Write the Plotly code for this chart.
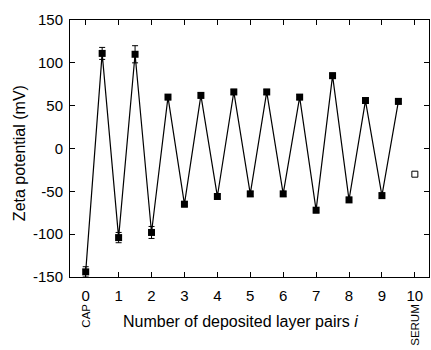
import plotly.graph_objects as go

# Zeta potential after each deposited layer (half-integer steps = one layer)
layer_pos = [0, 0.5, 1, 1.5, 2, 2.5, 3, 3.5, 4, 4.5, 5, 5.5, 6, 6.5, 7, 7.5, 8, 8.5, 9, 9.5]
zeta_mv = [-144, 111, -104, 110, -98, 60, -65, 62, -56, 66, -53, 66, -53, 60, -72, 85, -60, 56, -55, 55]
zeta_err = [6, 7, 6, 10, 7, 3, 3, 3, 3, 3, 3, 3, 3, 3, 3, 3, 3, 3, 3, 3]

# Capsules after serum incubation
serum_pos = [10]
serum_mv = [-30]

x_ticks = list(range(0, 11))
y_ticks = [-150, -100, -50, 0, 50, 100, 150]

FONT = "Liberation Sans, Arial, sans-serif"

fig = go.Figure()
fig.add_trace(go.Scatter(
    x=layer_pos, y=zeta_mv,
    mode="lines+markers",
    line=dict(color="black", width=1.2),
    marker=dict(symbol="square", size=7, color="black"),
    error_y=dict(type="data", array=zeta_err, visible=True,
                 color="black", thickness=1, width=3),
    showlegend=False,
))
fig.add_trace(go.Scatter(
    x=serum_pos, y=serum_mv,
    mode="markers",
    marker=dict(symbol="square-open", size=6, color="black",
                line=dict(width=1, color="black")),
    showlegend=False,
))

axis_common = dict(
    showline=True, linecolor="black", linewidth=1,
    ticks="inside", ticklen=5, tickcolor="black", tickwidth=1,
    mirror="allticks", showgrid=False, zeroline=False,
    tickfont=dict(family=FONT, size=15, color="black"),
)

fig.update_xaxes(range=[-0.477, 10.43], tickvals=x_ticks,
                 ticktext=[str(v) for v in x_ticks],
                 ticklabelstandoff=5, **axis_common)
fig.update_yaxes(range=[-150, 150], tickvals=y_ticks,
                 ticktext=[str(v) for v in y_ticks],
                 ticklabelstandoff=3, **axis_common)

fig.add_annotation(text="CAP", x=0, y=-0.097, xref="x", yref="paper",
                   textangle=-90, showarrow=False, xanchor="center", yanchor="top",
                   font=dict(family=FONT, size=11.5, color="black"))
fig.add_annotation(text="SERUM", x=10, y=-0.097, xref="x", yref="paper",
                   textangle=-90, showarrow=False, xanchor="center", yanchor="top",
                   font=dict(family=FONT, size=11.5, color="black"))
fig.add_annotation(text="Number of deposited layer pairs <i>i</i>",
                   x=0.476, y=-0.175, xref="paper", yref="paper",
                   showarrow=False, xanchor="center", yanchor="middle",
                   font=dict(family=FONT, size=16, color="black"))
fig.add_annotation(text="Zeta potential (mV)",
                   x=-0.142, y=0.482, xref="paper", yref="paper",
                   textangle=-90, showarrow=False, xanchor="center", yanchor="middle",
                   font=dict(family=FONT, size=16, color="black"))

fig.update_layout(
    width=431, height=350,
    margin=dict(l=70, r=2, t=20, b=73),
    paper_bgcolor="white", plot_bgcolor="white",
)

fig.write_html("out.html")
